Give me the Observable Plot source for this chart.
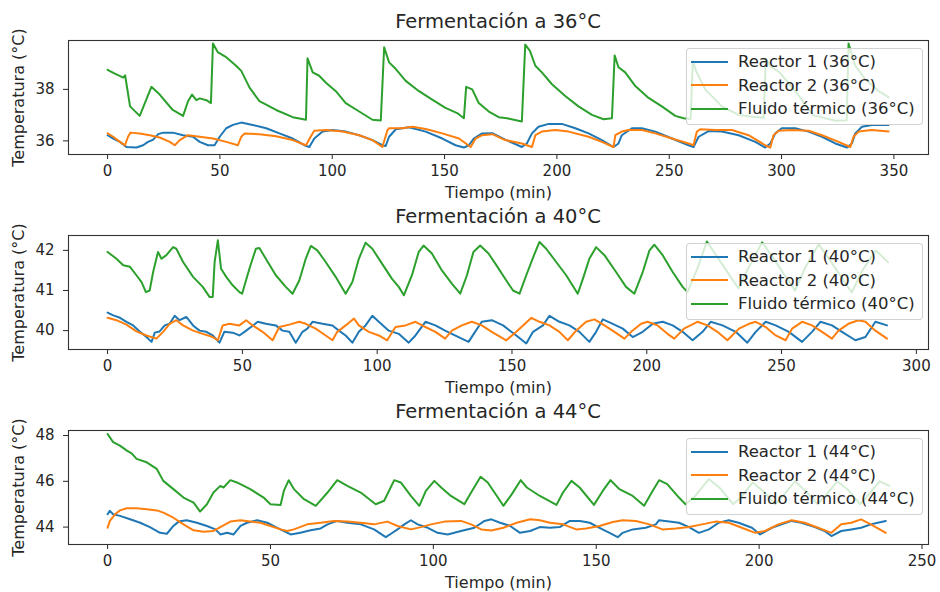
<!DOCTYPE html>
<html>
<head>
<meta charset="utf-8">
<script src="https://cdn.jsdelivr.net/npm/d3@7"></script>
<script src="https://cdn.jsdelivr.net/npm/@observablehq/plot@0.6"></script>
<style>
  html, body { margin: 0; padding: 0; background: #fff; }
  #root { position: relative; width: 940px; height: 592px; overflow: hidden; background: #fff; font-family: "DejaVu Sans", sans-serif; color: #262626; }
  .panel { position: absolute; left: 0; width: 940px; }
  .title { position: absolute; left: 68px; width: 860px; text-align: center; font-size: 19.5px; line-height: 24px; color: #262626; }
  .legend { position: absolute; left: 686px; width: 237px; height: 77px; box-sizing: border-box; border: 1px solid rgba(205,205,205,0.9); border-radius: 4px; background: rgba(255,255,255,0.8); padding-top: 1px; }
  .row { height: 23.5px; display: flex; align-items: center; font-size: 16.5px; white-space: nowrap; }
  .sw { width: 37px; height: 2px; margin-left: 4px; margin-right: 10px; flex: none; }
  g[aria-label="x-axis label"], g[aria-label="y-axis label"] { font-size: 16px; }
</style>
</head>
<body>
<div id="root"></div>
<script>
// ---------- data (minutes, °C) ----------
const seriesNames = ["Reactor 1", "Reactor 2", "Fluido térmico"];
const seriesColors = ["#1f77b4", "#ff7f0e", "#2ca02c"];
const setpoints = ["36°C", "40°C", "44°C"];
const xTicks36 = [0, 50, 100, 150, 200, 250, 300, 350];
const xTicks40 = [0, 50, 100, 150, 200, 250, 300];
const xTicks44 = [0, 50, 100, 150, 200, 250];
const yTicks36 = [36, 38];
const yTicks40 = [40, 41, 42];
const yTicks44 = [44, 46, 48];

const r1_36 = [[0,36.22],[2.5,36.09],[5.5,35.96],[8.4,35.76],[12.9,35.74],[15.8,35.83],[18,35.96],[20.3,36.05],[22.5,36.26],[24.7,36.32],[29,36.32],[33.6,36.22],[38,36.16],[41,35.96],[44.7,35.83],[47.6,35.83],[49.9,36.16],[52.8,36.49],[55.8,36.62],[59.5,36.71],[64.6,36.62],[70.6,36.49],[76.5,36.29],[82.4,36.09],[87.6,35.83],[89.8,35.76],[92,36.09],[95.7,36.36],[100.1,36.42],[106.1,36.36],[112,36.22],[117.9,36.03],[122.3,35.83],[123.8,35.8],[125.3,36.16],[128.3,36.45],[134.2,36.53],[141.6,36.36],[149,36.09],[154.9,35.83],[158.6,35.74],[160.8,35.83],[163,36.09],[166.7,36.29],[171.2,36.3],[177,36.05],[184.4,35.76],[186.6,35.9],[188.9,36.29],[191.8,36.55],[196.3,36.66],[202.2,36.66],[208.2,36.49],[214.1,36.29],[220,36.03],[225.2,35.76],[227.4,35.9],[228.9,36.22],[233.4,36.49],[237.8,36.49],[243.8,36.36],[251.2,36.09],[258.6,35.83],[260.8,35.76],[263.1,36.16],[267.5,36.38],[273.4,36.36],[280.9,36.22],[288.3,35.96],[292.7,35.74],[295,35.9],[297.2,36.29],[300.1,36.49],[306.1,36.49],[312,36.36],[318,36.16],[323.9,35.9],[329.1,35.74],[331.3,35.9],[332.8,36.29],[335.8,36.55],[340.2,36.62],[347.6,36.62]];
const r2_36 = [[0,36.29],[2.5,36.16],[5.5,35.96],[7.7,35.83],[9.2,36.18],[10.2,36.32],[14.3,36.29],[18.8,36.22],[23.2,36.13],[27.7,35.96],[29.9,35.83],[32.1,36.03],[35.8,36.22],[41,36.16],[46.9,36.09],[52.8,35.96],[58,35.83],[59.5,36.16],[61,36.29],[67.6,36.26],[75,36.18],[82.4,36.03],[88.3,35.83],[90.5,36.18],[92,36.39],[97.2,36.42],[104.6,36.36],[112,36.22],[117.9,36.03],[122.3,35.76],[124.6,36.42],[125.3,36.49],[131.2,36.49],[135.7,36.55],[141.6,36.46],[149,36.29],[156.4,36.09],[161.6,35.76],[163.8,36.09],[166.7,36.22],[171.2,36.26],[177,36.03],[184.4,35.9],[188.9,35.76],[190.4,36.22],[193.3,36.36],[199.3,36.42],[205.2,36.36],[214.1,36.16],[220,35.96],[225.2,35.76],[226,36.22],[228.9,36.36],[231.9,36.42],[237.8,36.42],[243.8,36.29],[251.2,36.09],[258.6,35.9],[260.8,35.83],[262.3,36.36],[263.8,36.45],[270.5,36.42],[277.9,36.42],[285.3,36.22],[292.7,35.83],[295,35.74],[296.4,36.22],[298.7,36.39],[304.6,36.42],[312,36.39],[318,36.22],[325.4,35.96],[330.6,35.76],[332,36.16],[334.3,36.36],[340.2,36.42],[347.6,36.36]];
const fl_36 = [[0,38.76],[3,38.62],[7,38.46],[7.8,38.55],[10,37.34],[14.3,36.97],[19.5,38.1],[23.2,37.8],[29,37.2],[33.6,36.97],[35.8,37.54],[37.6,37.8],[39.5,37.58],[41,37.65],[44,37.58],[46,37.47],[46.9,39.78],[49,39.45],[52.8,39.25],[57.2,38.92],[59.5,38.72],[63.2,38.07],[67.6,37.54],[75,37.2],[82.4,36.92],[88.3,36.82],[89,39.21],[91.3,38.66],[94.2,38.53],[97.2,38.26],[101.6,37.93],[106,37.47],[112,37.14],[117.9,36.82],[121.6,36.79],[123.1,39.64],[125.3,39.05],[128.3,38.79],[132.7,38.33],[138.6,37.93],[144.5,37.6],[150.4,37.28],[155.6,37.08],[158.6,36.88],[159.6,38.1],[162.3,38.0],[165.2,37.47],[169.7,37.14],[174.1,36.92],[177.8,36.88],[184.4,36.75],[185.9,39.74],[188,39.5],[190.4,38.92],[193.3,38.66],[197.8,38.2],[203.7,37.74],[209.6,37.34],[215.6,37.01],[220.8,36.84],[224.5,36.88],[225.7,39.32],[227.4,38.86],[230.4,38.66],[234.9,38.13],[240.8,37.67],[246.7,37.34],[252.7,36.97],[256.4,36.88],[259.5,36.85],[260.5,39.1],[262,38.7],[266,38.0],[273.4,37.34],[280.9,37.01],[286,36.95],[292,36.9],[293,39.2],[295,38.9],[299,38.67],[306.6,37.88],[314,37.0],[324,36.78],[329,36.8],[329.8,39.78],[332.8,38.92],[337.2,38.4],[343.2,37.93],[347.6,37.7]];

const r1_40 = [[0,40.45],[2.1,40.38],[4.6,40.32],[7,40.22],[9.5,40.13],[11.9,39.98],[14.4,39.84],[16.3,39.72],[17.5,39.95],[19.3,39.98],[21.2,40.13],[23,40.17],[24.9,40.37],[26.7,40.26],[29.2,40.34],[31.7,40.13],[34.1,40.0],[36.6,39.97],[39,39.88],[41.5,39.7],[43.3,39.97],[46.4,39.95],[48.9,39.88],[51.4,40.0],[53.2,40.09],[55.7,40.22],[58.7,40.17],[62.4,40.13],[64.9,40.0],[67.4,39.97],[69.8,39.7],[72.3,39.97],[74.1,40.05],[76,40.22],[79.7,40.17],[83.4,40.13],[85.8,40.0],[88.3,39.88],[90.8,39.7],[93.2,39.97],[95.7,40.13],[98.2,40.37],[100.6,40.22],[104.3,40.0],[108,39.92],[111.7,39.7],[114.2,39.88],[117.9,40.22],[121.6,40.13],[125.2,40.0],[130.2,39.84],[133.9,39.72],[136.3,39.97],[138.8,40.22],[142.5,40.26],[146.7,40.13],[151.6,39.88],[155.3,39.68],[157.8,39.97],[161.5,40.13],[163.9,40.37],[167.6,40.22],[171.3,40.13],[175,39.97],[178.7,39.72],[181.2,39.97],[183.7,40.28],[187.4,40.17],[191.1,40.05],[194.8,39.84],[198.5,39.97],[202.2,40.17],[205.9,40.22],[209.6,40.13],[213.3,39.97],[217,39.76],[220.7,39.97],[223.7,40.22],[228.1,40.13],[233,39.97],[237.3,39.7],[240.4,39.97],[244.1,40.22],[247.8,40.13],[252.7,39.97],[257.6,39.72],[261.3,39.97],[264.4,40.22],[268.7,40.13],[272.4,39.97],[277.4,39.76],[281.1,39.84],[284.8,40.22],[289.1,40.13]];
const r2_40 = [[0,40.32],[3.3,40.26],[7,40.15],[10.7,39.98],[14.4,39.88],[18.1,39.8],[20.6,39.97],[23,40.17],[25.5,40.26],[28,40.13],[31.7,40.0],[35.3,39.92],[39,39.84],[40.9,39.76],[42.7,40.13],[45.2,40.17],[48.9,40.13],[51.4,40.26],[53.8,40.13],[57.5,39.97],[61.2,39.76],[63.7,40.09],[67.4,40.15],[71.1,40.22],[73.5,40.17],[77.2,40.05],[80.9,39.88],[83.4,39.76],[85.2,39.97],[88.3,40.13],[91.4,40.3],[93.2,40.13],[96.9,39.97],[100.6,39.88],[103.7,39.76],[106.8,40.09],[110.5,40.13],[114.2,40.22],[117.9,40.09],[121.6,39.97],[125.2,39.8],[127.7,40.0],[131.4,40.13],[135.1,40.22],[138.8,40.13],[142.5,39.97],[147.9,39.76],[151.6,39.97],[154.1,40.13],[157.2,40.32],[160.2,40.22],[163.9,40.13],[167.6,39.97],[170.7,39.76],[173.8,40.0],[177.5,40.22],[180.6,40.28],[184.3,40.13],[188,39.97],[191.7,39.8],[194.2,39.97],[197.9,40.17],[200.3,40.22],[204,40.13],[207.7,39.92],[210.2,39.8],[213.8,40.05],[218.8,40.22],[222.5,40.13],[226.2,39.97],[229.9,39.76],[234.2,40.05],[237.9,40.17],[240.4,40.22],[244.1,40.09],[247.8,39.88],[251.5,39.76],[253.9,40.05],[257.6,40.22],[261.3,40.13],[265,39.97],[268.7,39.8],[271.1,40.0],[274.8,40.17],[278.5,40.26],[281.1,40.22],[284.8,40.0],[289.1,39.8]];
const fl_40 = [[0,41.96],[3.3,41.79],[5.8,41.63],[8.3,41.59],[10.7,41.38],[12.6,41.21],[14.2,40.96],[15.6,41.0],[16.9,41.46],[18.7,41.96],[20,41.79],[21.8,41.88],[24.3,42.08],[25.5,42.04],[28,41.71],[31.7,41.34],[35.3,41.09],[37.8,40.84],[39,40.84],[39.7,41.71],[40.9,42.25],[42.1,41.54],[44,41.34],[46.4,41.13],[48.9,40.96],[49.9,40.92],[52.6,41.54],[55,42.04],[56.3,42.06],[58.7,41.79],[62.4,41.38],[66.1,41.09],[68.6,40.92],[71.1,41.25],[73.5,41.79],[75.4,42.11],[77.8,42.0],[80.9,41.71],[84.6,41.34],[88.3,40.92],[90.8,41.21],[93.2,41.79],[95.7,42.19],[98.2,42.04],[101.8,41.67],[105.5,41.29],[108,41.09],[109.9,40.88],[112.9,41.38],[115.4,41.96],[117.2,42.12],[120.3,41.92],[124,41.5],[127.7,41.17],[130.8,40.92],[133.3,41.38],[135.7,41.96],[138.2,42.12],[141.3,41.92],[144.5,41.6],[147.9,41.25],[150.4,41.0],[152.8,40.92],[155.3,41.38],[158.4,41.92],[160.2,42.21],[162.7,42.04],[166.4,41.71],[170.1,41.38],[174.4,40.92],[176.3,41.29],[178.7,41.79],[181.2,42.08],[184.3,41.88],[188.6,41.46],[192.3,41.09],[195.4,40.92],[198.5,41.46],[201,42.0],[202.8,42.14],[205.9,41.88],[209.6,41.46],[213.3,41.09],[215.1,40.96],[218.5,41.5],[222.3,42.22],[226,41.85],[230,41.45],[234,41.05],[238,41.6],[242.8,42.2],[247,41.8],[251,41.4],[255,41.0],[259,41.6],[263.8,42.15],[268,41.75],[272,41.35],[276,40.95],[280,41.5],[285,42.0],[289.5,41.7]];

const r1_44 = [[0,44.56],[0.7,44.71],[1.7,44.56],[3.8,44.49],[6.9,44.34],[10,44.19],[13,44.0],[16.1,43.75],[18.2,43.71],[20.2,44.05],[21.8,44.24],[24.3,44.3],[27.4,44.19],[30.5,44.05],[33.1,43.9],[34.6,43.68],[36.7,43.75],[38.7,43.68],[40.8,44.05],[42.8,44.19],[45.9,44.3],[49,44.19],[52.1,43.97],[56.2,43.68],[59.2,43.75],[62.3,43.86],[65.4,43.94],[67.5,44.12],[70.5,44.27],[73.6,44.19],[77.7,44.12],[81.8,43.9],[85.4,43.56],[87,43.71],[89,43.9],[91.1,44.12],[93.1,44.3],[95.2,44.12],[98.3,43.97],[101.3,43.75],[104.4,43.68],[108.5,43.83],[112.6,43.97],[115.7,44.27],[117.8,44.34],[120.5,44.19],[123.6,44.05],[126.6,43.75],[129.7,43.83],[132.7,44.0],[135.8,43.97],[138.8,44.0],[141.9,44.27],[145,44.27],[148,44.19],[151,43.97],[154.1,43.75],[156.6,43.56],[158.1,43.75],[161.2,43.9],[165.2,43.97],[168.3,44.12],[169.3,44.3],[172.4,44.24],[175.4,44.19],[178.5,44.0],[181.5,43.75],[184.6,43.9],[187.6,44.19],[190.7,44.3],[193.7,44.19],[197.8,43.97],[200.3,43.68],[203.9,43.97],[206.9,44.12],[210,44.27],[213,44.19],[217.1,44.0],[220.1,43.83],[222.2,43.61],[225.2,43.83],[228.3,43.9],[231.3,43.97],[234.3,44.12],[236.4,44.19],[238.9,44.27]];
const r2_44 = [[0,43.97],[0.7,44.27],[2.3,44.56],[3.8,44.73],[5.9,44.82],[8.9,44.82],[12,44.78],[15.1,44.73],[17.1,44.63],[20.2,44.41],[23.3,44.12],[26.4,43.86],[29.5,43.8],[32.5,43.83],[34.6,44.0],[37.7,44.24],[40.8,44.3],[43.8,44.24],[46.9,44.19],[50,44.05],[53.1,43.9],[55.1,43.83],[57.2,43.9],[61.3,44.12],[65.4,44.19],[69.5,44.27],[73.6,44.24],[77.7,44.19],[81.8,44.12],[85.9,44.24],[89,44.05],[93.1,43.9],[96.2,44.0],[99.3,44.12],[103.4,44.24],[108.5,44.27],[111.6,44.12],[114.7,43.9],[117.8,43.85],[121.5,43.97],[125.6,44.19],[129.7,44.34],[132.7,44.3],[135.8,44.19],[139.8,44.12],[143.9,43.9],[146.9,43.94],[151,44.05],[155.1,44.22],[158.1,44.3],[162.2,44.27],[166.3,44.12],[170.3,43.9],[174.4,43.94],[178.5,44.0],[182.5,44.12],[186.6,44.24],[190.7,44.19],[194.7,43.97],[198.8,43.75],[201.8,43.83],[205.9,44.12],[210,44.3],[214,44.19],[218.1,43.97],[222.2,43.75],[225.2,44.12],[228.3,44.19],[231.3,44.34],[234.3,44.12],[238.9,43.75]];
const fl_44 = [[0,48.07],[1.7,47.71],[3.8,47.56],[5.9,47.34],[7.4,47.22],[8.9,46.98],[12,46.83],[15.1,46.54],[17.1,46.02],[20.2,45.66],[23.3,45.29],[26.4,45.07],[28.4,44.68],[30.5,45.0],[32.5,45.51],[34.6,45.8],[35.6,45.73],[37.7,46.05],[39.7,45.95],[43.8,45.66],[47.9,45.29],[50,45.0],[53.1,44.97],[54.1,45.58],[55.6,46.05],[57.2,45.66],[60.3,45.22],[63.9,44.93],[67.5,45.51],[70.5,46.05],[73.6,45.8],[77.7,45.51],[82.3,45.0],[84.9,45.15],[88,46.05],[90,45.95],[93.1,45.36],[95.7,44.93],[97.7,45.58],[100.3,46.02],[102.4,45.73],[105.4,45.36],[109.5,45.0],[111.6,45.51],[114.5,46.2],[116.7,45.95],[119.5,45.36],[121.5,44.93],[124.1,45.44],[126.8,46.05],[128.7,45.73],[132.7,45.36],[137.8,44.97],[139.8,45.51],[142.4,46.02],[144.9,45.73],[149.3,44.97],[152,45.58],[154.4,46.05],[157.1,45.66],[161.2,45.36],[164.7,44.93],[167.3,45.58],[169.3,46.05],[171.8,45.88],[175.4,45.29],[177.4,45.0],[180,45.3],[184.6,46.1],[188,45.7],[192,45.0],[194.5,45.3],[198,45.95],[201,45.6],[205,45.0],[207.5,45.4],[211,46.0],[214.5,45.55],[218,45.0],[220.5,45.4],[224,46.0],[227.5,45.6],[231,45.0],[233.5,45.4],[237,46.0],[240,45.8]];

// ---------- layout ----------
const panels = [
  {sp: setpoints[0], top: 40, xdom: [-17.4, 365.4], ydom: [35.47, 39.9], xt: xTicks36, yt: yTicks36, series: [r1_36, r2_36, fl_36]},
  {sp: setpoints[1], top: 235, xdom: [-14.5, 304.5], ydom: [39.53, 42.37], xt: xTicks40, yt: yTicks40, series: [r1_40, r2_40, fl_40]},
  {sp: setpoints[2], top: 430, xdom: [-12, 252], ydom: [43.24, 48.22], xt: xTicks44, yt: yTicks44, series: [r1_44, r2_44, fl_44]}
];

const root = document.getElementById("root");
const FRAME_H = 114, MT = 40, MB = 46;

panels.forEach(p => {
  const wrap = document.createElement("div");
  wrap.className = "panel";
  wrap.style.top = (p.top - MT) + "px";
  const chart = Plot.plot({
    width: 940,
    height: MT + FRAME_H + MB,
    marginLeft: 68, marginRight: 12, marginTop: MT, marginBottom: MB,
    style: {fontFamily: "DejaVu Sans", fontSize: "15px", color: "#262626", background: "transparent", overflow: "visible"},
    x: {domain: p.xdom, ticks: p.xt, tickFormat: d => String(d), tickSize: 5, tickPadding: 6, label: "Tiempo (min)", labelAnchor: "center", labelArrow: "none", labelOffset: 43},
    y: {domain: p.ydom, ticks: p.yt, tickFormat: d => String(d), tickSize: 5, tickPadding: 9, label: "Temperatura (°C)", labelAnchor: "center", labelArrow: "none", labelOffset: 56},
    marks: [
      ...p.series.map((s, i) => Plot.line(s, {x: d => d[0], y: d => d[1], stroke: seriesColors[i], strokeWidth: 2, strokeLinejoin: "round"})),
      Plot.frame({stroke: "#333", strokeWidth: 1.1})
    ]
  });
  wrap.appendChild(chart);
  root.appendChild(wrap);

  const title = document.createElement("div");
  title.className = "title";
  title.style.top = (p.top - 30) + "px";
  title.textContent = "Fermentación a " + p.sp;
  root.appendChild(title);

  const leg = document.createElement("div");
  leg.className = "legend";
  leg.style.top = (p.top + 8) + "px";
  seriesNames.forEach((n, i) => {
    const row = document.createElement("div");
    row.className = "row";
    const sw = document.createElement("div");
    sw.className = "sw";
    sw.style.background = seriesColors[i];
    const tx = document.createElement("span");
    tx.textContent = n + " (" + p.sp + ")";
    row.appendChild(sw); row.appendChild(tx);
    leg.appendChild(row);
  });
  root.appendChild(leg);
});
</script>
</body>
</html>
